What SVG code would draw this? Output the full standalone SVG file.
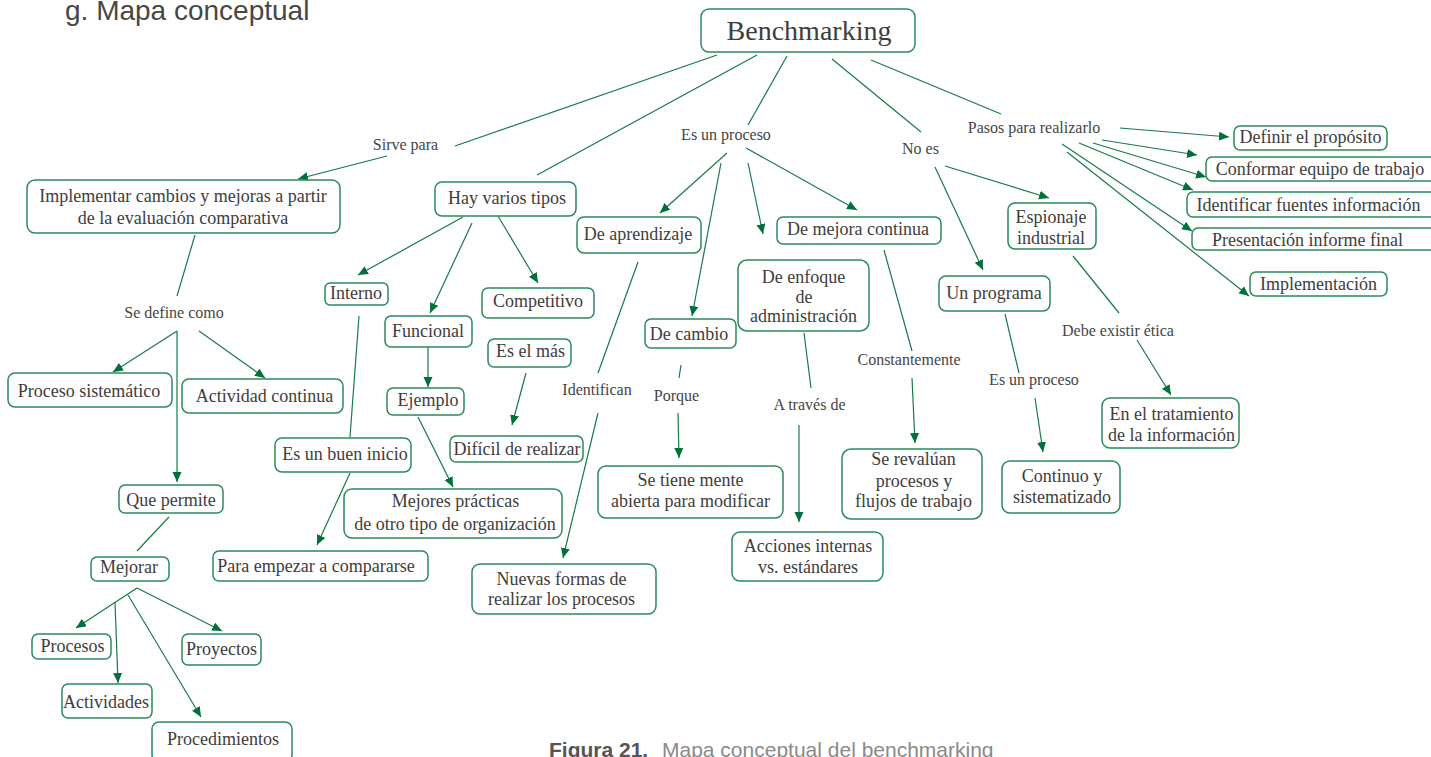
<svg xmlns="http://www.w3.org/2000/svg" width="1431" height="757" viewBox="0 0 1431 757">
  <style>
    .box { fill: #ffffff; stroke: #2b8a5c; stroke-width: 1.5; }
    .t { font-family: "Liberation Serif", "DejaVu Serif", serif; font-size: 18px; fill: #3d3d3d; text-anchor: middle; }
    .big { font-size: 28px; }
    .lbl { font-family: "Liberation Serif", "DejaVu Serif", serif; font-size: 16px; fill: #454545; text-anchor: middle; }
    .ln { stroke: #187a48; stroke-width: 1.2; fill: none; }
    .ar { stroke: #187a48; stroke-width: 1.2; fill: none; marker-end: url(#ah); }
    .head { font-family: "Liberation Sans", Arial, sans-serif; }
  </style>
  <defs>
    <marker id="ah" markerUnits="userSpaceOnUse" markerWidth="11" markerHeight="10" refX="10" refY="4.5" orient="auto">
      <path d="M0,0 L10,4.5 L0,9 Z" fill="#03703c"/>
    </marker>
  </defs>
  <rect width="1431" height="757" fill="#ffffff"/>

  <!-- heading and caption -->
  <text class="head" x="65" y="20" font-size="28" fill="#474747">g. Mapa conceptual</text>
  <text class="head" x="549" y="757" font-size="21"><tspan font-weight="bold" fill="#555555">Figura 21.</tspan><tspan x="662" fill="#8a8a8a">Mapa conceptual del benchmarking</tspan></text>

  <!-- connectors -->
  <g id="connectors">
    <!-- plain links -->
    <line class="ln" x1="717" y1="55" x2="455" y2="146"/>
    <line class="ln" x1="757" y1="55" x2="537" y2="175"/>
    <line class="ln" x1="787" y1="56" x2="748" y2="125"/>
    <line class="ln" x1="832" y1="59" x2="921" y2="132"/>
    <line class="ln" x1="871" y1="60" x2="1001" y2="114"/>
    <line class="ln" x1="195" y1="235" x2="177" y2="296"/>
    <line class="ln" x1="359" y1="316" x2="350" y2="437"/>
    <line class="ln" x1="638" y1="262" x2="598" y2="373"/>
    <line class="ln" x1="681" y1="365" x2="679" y2="378"/>
    <line class="ln" x1="804" y1="333" x2="811" y2="388"/>
    <line class="ln" x1="884" y1="250" x2="912" y2="351"/>
    <line class="ln" x1="1005" y1="314" x2="1019" y2="373"/>
    <line class="ln" x1="1073" y1="256" x2="1119" y2="313"/>
    <line class="ln" x1="169" y1="517" x2="137" y2="551"/>

    <!-- arrows -->
    <line class="ar" x1="387" y1="156" x2="298" y2="179"/>
    <line class="ar" x1="177" y1="331" x2="177" y2="482"/>
    <line class="ar" x1="177" y1="331" x2="113" y2="372"/>
    <line class="ar" x1="199" y1="331" x2="265" y2="378"/>
    <line class="ar" x1="463" y1="217" x2="358" y2="275"/>
    <line class="ar" x1="472" y1="223" x2="430" y2="313"/>
    <line class="ar" x1="498" y1="216" x2="538" y2="283"/>
    <line class="ar" x1="428" y1="347" x2="428" y2="387"/>
    <line class="ar" x1="418" y1="417" x2="453" y2="487"/>
    <line class="ar" x1="526" y1="373" x2="512" y2="425"/>
    <line class="ar" x1="350" y1="473" x2="317" y2="545"/>
    <line class="ar" x1="727" y1="153" x2="660" y2="213"/>
    <line class="ar" x1="721" y1="163" x2="692" y2="316"/>
    <line class="ar" x1="748" y1="163" x2="763" y2="234"/>
    <line class="ar" x1="746" y1="148" x2="857" y2="210"/>
    <line class="ar" x1="598" y1="413" x2="563" y2="558"/>
    <line class="ar" x1="678" y1="413" x2="679" y2="458"/>
    <line class="ar" x1="799" y1="425" x2="799" y2="522"/>
    <line class="ar" x1="912" y1="378" x2="915" y2="443"/>
    <line class="ar" x1="935" y1="167" x2="983" y2="270"/>
    <line class="ar" x1="945" y1="166" x2="1049" y2="198"/>
    <line class="ar" x1="1035" y1="398" x2="1043" y2="452"/>
    <line class="ar" x1="1137" y1="340" x2="1171" y2="395"/>
    <line class="ar" x1="1120" y1="128" x2="1229" y2="137"/>
    <line class="ar" x1="1102" y1="140" x2="1197" y2="155"/>
    <line class="ar" x1="1093" y1="143" x2="1206" y2="177"/>
    <line class="ar" x1="1079" y1="143" x2="1193" y2="190"/>
    <line class="ar" x1="1062" y1="144" x2="1192" y2="231"/>
    <line class="ar" x1="1067" y1="152" x2="1249" y2="296"/>
    <line class="ar" x1="137" y1="588" x2="222" y2="631"/>
    <line class="ar" x1="137" y1="588" x2="76" y2="628"/>
    <line class="ar" x1="115" y1="602" x2="118" y2="683"/>
    <line class="ar" x1="128" y1="595" x2="201" y2="717"/>
  </g>

  <!-- link labels -->
  <g id="labels">
    <text class="lbl" x="405.5" y="150">Sirve para</text>
    <text class="lbl" x="726" y="140">Es un proceso</text>
    <text class="lbl" x="920.5" y="154">No es</text>
    <text class="lbl" x="1034" y="133">Pasos para realizarlo</text>
    <text class="lbl" x="174" y="318">Se define como</text>
    <text class="lbl" x="597" y="395">Identifican</text>
    <text class="lbl" x="676.5" y="401">Porque</text>
    <text class="lbl" x="809.5" y="410">A través de</text>
    <text class="lbl" x="909" y="365">Constantemente</text>
    <text class="lbl" x="1034" y="385">Es un proceso</text>
    <text class="lbl" x="1118" y="336">Debe existir ética</text>
  </g>

  <!-- nodes -->
  <g id="benchmarking">
    <rect class="box" x="701" y="9" width="214" height="43" rx="8"/>
    <text class="t big" x="809" y="40">Benchmarking</text>
  </g>
  <g id="implementar">
    <rect class="box" x="27" y="180" width="313" height="53" rx="8"/>
    <text class="t" x="183" y="202">Implementar cambios y mejoras a partir</text>
    <text class="t" x="183" y="224">de la evaluación comparativa</text>
  </g>
  <g id="proceso-sistematico">
    <rect class="box" x="8" y="373" width="164" height="34" rx="7"/>
    <text class="t" x="89" y="397">Proceso sistemático</text>
  </g>
  <g id="actividad-continua">
    <rect class="box" x="182" y="379" width="161" height="34" rx="7"/>
    <text class="t" x="264.5" y="402">Actividad continua</text>
  </g>
  <g id="que-permite">
    <rect class="box" x="119" y="485" width="104" height="28" rx="6"/>
    <text class="t" x="171" y="506">Que permite</text>
  </g>
  <g id="mejorar">
    <rect class="box" x="91" y="557" width="78" height="24" rx="6"/>
    <text class="t" x="129" y="573">Mejorar</text>
  </g>
  <g id="procesos">
    <rect class="box" x="32" y="634" width="79" height="25" rx="6"/>
    <text class="t" x="72.5" y="652">Procesos</text>
  </g>
  <g id="proyectos">
    <rect class="box" x="182" y="634" width="79" height="31" rx="6"/>
    <text class="t" x="221.5" y="655">Proyectos</text>
  </g>
  <g id="actividades">
    <rect class="box" x="62" y="684" width="90" height="34" rx="6"/>
    <text class="t" x="106" y="708">Actividades</text>
  </g>
  <g id="procedimientos">
    <rect class="box" x="152" y="722" width="140" height="40" rx="7"/>
    <text class="t" x="223" y="745">Procedimientos</text>
  </g>
  <g id="hay-varios-tipos">
    <rect class="box" x="435" y="182" width="141" height="34" rx="7"/>
    <text class="t" x="507" y="204">Hay varios tipos</text>
  </g>
  <g id="interno">
    <rect class="box" x="325" y="283" width="63" height="22" rx="5"/>
    <text class="t" x="356" y="299">Interno</text>
  </g>
  <g id="funcional">
    <rect class="box" x="385" y="316" width="87" height="31" rx="6"/>
    <text class="t" x="428" y="337">Funcional</text>
  </g>
  <g id="ejemplo">
    <rect class="box" x="387" y="388" width="77" height="27" rx="6"/>
    <text class="t" x="428" y="406">Ejemplo</text>
  </g>
  <g id="competitivo">
    <rect class="box" x="482" y="288" width="112" height="30" rx="6"/>
    <text class="t" x="538" y="307">Competitivo</text>
  </g>
  <g id="es-el-mas">
    <rect class="box" x="488" y="339" width="83" height="28" rx="6"/>
    <text class="t" x="530.5" y="357">Es el más</text>
  </g>
  <g id="dificil">
    <rect class="box" x="450" y="436" width="133" height="26" rx="6"/>
    <text class="t" x="517" y="455">Difícil de realizar</text>
  </g>
  <g id="buen-inicio">
    <rect class="box" x="275" y="438" width="136" height="34" rx="7"/>
    <text class="t" x="345" y="460">Es un buen inicio</text>
  </g>
  <g id="mejores-practicas">
    <rect class="box" x="344" y="489" width="218" height="49" rx="8"/>
    <text class="t" x="455.5" y="507">Mejores prácticas</text>
    <text class="t" x="455" y="530">de otro tipo de organización</text>
  </g>
  <g id="para-empezar">
    <rect class="box" x="213" y="551" width="215" height="30" rx="6"/>
    <text class="t" x="316" y="572">Para empezar a compararse</text>
  </g>
  <g id="de-aprendizaje">
    <rect class="box" x="577" y="217" width="124" height="36" rx="7"/>
    <text class="t" x="638" y="240">De aprendizaje</text>
  </g>
  <g id="nuevas-formas">
    <rect class="box" x="472" y="564" width="184" height="50" rx="8"/>
    <text class="t" x="561.5" y="585">Nuevas formas de</text>
    <text class="t" x="561.5" y="605">realizar los procesos</text>
  </g>
  <g id="de-cambio">
    <rect class="box" x="645" y="319" width="91" height="29" rx="6"/>
    <text class="t" x="689" y="340">De cambio</text>
  </g>
  <g id="se-tiene-mente">
    <rect class="box" x="598" y="466" width="185" height="52" rx="8"/>
    <text class="t" x="690.5" y="486">Se tiene mente</text>
    <text class="t" x="690.5" y="507">abierta para modificar</text>
  </g>
  <g id="de-enfoque">
    <rect class="box" x="738" y="260" width="131" height="71" rx="9"/>
    <text class="t" x="803.5" y="283">De enfoque</text>
    <text class="t" x="804" y="303">de</text>
    <text class="t" x="803.5" y="322">administración</text>
  </g>
  <g id="acciones-internas">
    <rect class="box" x="732" y="532" width="151" height="49" rx="8"/>
    <text class="t" x="808" y="552">Acciones internas</text>
    <text class="t" x="808" y="573">vs. estándares</text>
  </g>
  <g id="de-mejora-continua">
    <rect class="box" x="777" y="217" width="164" height="27" rx="6"/>
    <text class="t" x="858" y="235">De mejora continua</text>
  </g>
  <g id="se-revaluan">
    <rect class="box" x="842" y="449" width="140" height="70" rx="9"/>
    <text class="t" x="913.5" y="465">Se revalúan</text>
    <text class="t" x="914" y="487">procesos y</text>
    <text class="t" x="913.5" y="507">flujos de trabajo</text>
  </g>
  <g id="un-programa">
    <rect class="box" x="939" y="276" width="111" height="35" rx="7"/>
    <text class="t" x="994" y="299">Un programa</text>
  </g>
  <g id="continuo">
    <rect class="box" x="1002" y="461" width="118" height="52" rx="8"/>
    <text class="t" x="1062" y="482">Continuo y</text>
    <text class="t" x="1062" y="503">sistematizado</text>
  </g>
  <g id="espionaje">
    <rect class="box" x="1008" y="203" width="88" height="46" rx="7"/>
    <text class="t" x="1051" y="223">Espionaje</text>
    <text class="t" x="1051" y="244">industrial</text>
  </g>
  <g id="tratamiento">
    <rect class="box" x="1102" y="398" width="137" height="50" rx="8"/>
    <text class="t" x="1171.5" y="420">En el tratamiento</text>
    <text class="t" x="1171.5" y="441">de la información</text>
  </g>
  <g id="definir">
    <rect class="box" x="1234" y="126" width="153" height="24" rx="6"/>
    <text class="t" x="1310.5" y="143">Definir el propósito</text>
  </g>
  <g id="conformar">
    <rect class="box" x="1206" y="157" width="232" height="24" rx="6"/>
    <text class="t" x="1320" y="175">Conformar equipo de trabajo</text>
  </g>
  <g id="identificar">
    <rect class="box" x="1187" y="192" width="251" height="25" rx="6"/>
    <text class="t" x="1308.5" y="211">Identificar fuentes información</text>
  </g>
  <g id="presentacion">
    <rect class="box" x="1192" y="228" width="246" height="22" rx="6"/>
    <text class="t" x="1307.5" y="246">Presentación informe final</text>
  </g>
  <g id="implementacion">
    <rect class="box" x="1250" y="272" width="137" height="24" rx="6"/>
    <text class="t" x="1318.5" y="290">Implementación</text>
  </g>
</svg>
